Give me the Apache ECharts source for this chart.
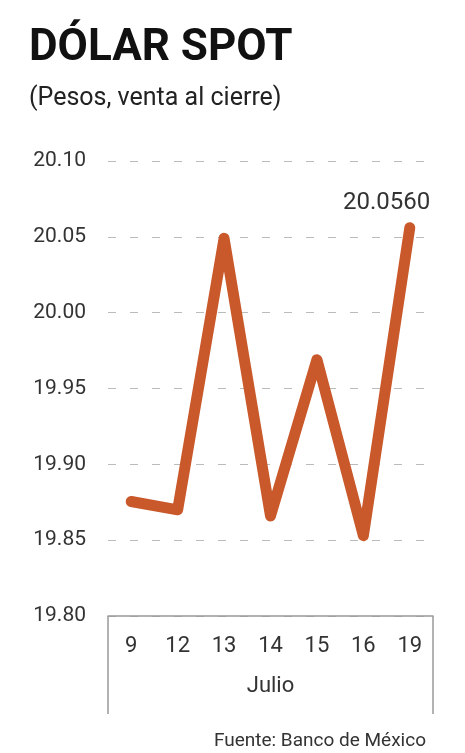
<!DOCTYPE html>
<html><head><meta charset="utf-8">
<script src="https://cdn.jsdelivr.net/npm/echarts@6/dist/echarts.min.js"></script>
<style>html,body{margin:0;padding:0;background:#fff}#c{width:465px;height:753px}</style>
</head><body><div id="c"></div>
<script>
const categories = ['9','12','13','14','15','16','19'];
const values = [19.8755, 19.870, 20.049, 19.866, 19.969, 19.853, 20.056];
const yTicks = {min: 19.80, max: 20.10, interval: 0.05};
const lastLabel = '20.0560';

const chart = echarts.init(document.getElementById('c'));
const ff = 'Roboto, sans-serif';
chart.setOption({
  animation: false,
  title: [
    {text: 'DÓLAR SPOT', left: 24, top: 22, textStyle: {fontFamily: 'Roboto', fontWeight: 'bold', fontSize: 44, color: '#111'}},
    {text: '(Pesos, venta al cierre)', left: 24, top: 81, textStyle: {fontFamily: ff, fontWeight: 'normal', fontSize: 25, color: '#222'}},
    {text: 'Fuente: Banco de México', right: 34, top: 727, textStyle: {fontFamily: ff, fontWeight: 'normal', fontSize: 19, color: '#333'}}
  ],
  grid: {left: 108, right: 32, top: 161, bottom: 137},
  xAxis: {
    type: 'category', data: categories, boundaryGap: true,
    axisLine: {lineStyle: {color: '#999', width: 1.5}},
    axisTick: {show: false},
    axisLabel: {margin: 19, fontFamily: ff, fontSize: 22, color: '#333'},
    name: 'Julio', nameLocation: 'middle', nameGap: 59,
    nameTextStyle: {fontFamily: ff, fontSize: 22, color: '#333'}
  },
  yAxis: {
    type: 'value', min: yTicks.min, max: yTicks.max, interval: yTicks.interval,
    axisLine: {show: false}, axisTick: {show: false},
    axisLabel: {margin: 22, fontFamily: ff, fontSize: 21, color: '#333', formatter: v => v.toFixed(2)},
    splitLine: {lineStyle: {color: '#bbb', type: [8, 14], width: 1.2}}
  },
  graphic: [
    {type: 'line', shape: {x1: 108, y1: 616, x2: 108, y2: 714}, style: {stroke: '#999', lineWidth: 1.5}},
    {type: 'line', shape: {x1: 433, y1: 616, x2: 433, y2: 714}, style: {stroke: '#999', lineWidth: 1.5}}
  ],
  series: [{
    type: 'line', symbol: 'circle', symbolSize: 1, showSymbol: true,
    itemStyle: {color: '#C9582A'},
    data: values.map((v, i) => i === values.length - 1
      ? {value: v, label: {show: true}}
      : {value: v, label: {show: false}}),
    lineStyle: {color: '#C9582A', width: 11, cap: 'round', join: 'round'},
    label: {show: false, formatter: () => lastLabel, position: [21, -12], align: 'right', verticalAlign: 'bottom', fontFamily: ff, fontSize: 24, color: '#333'},
    labelLayout: {hideOverlap: false}
  }]
});
</script></body></html>
